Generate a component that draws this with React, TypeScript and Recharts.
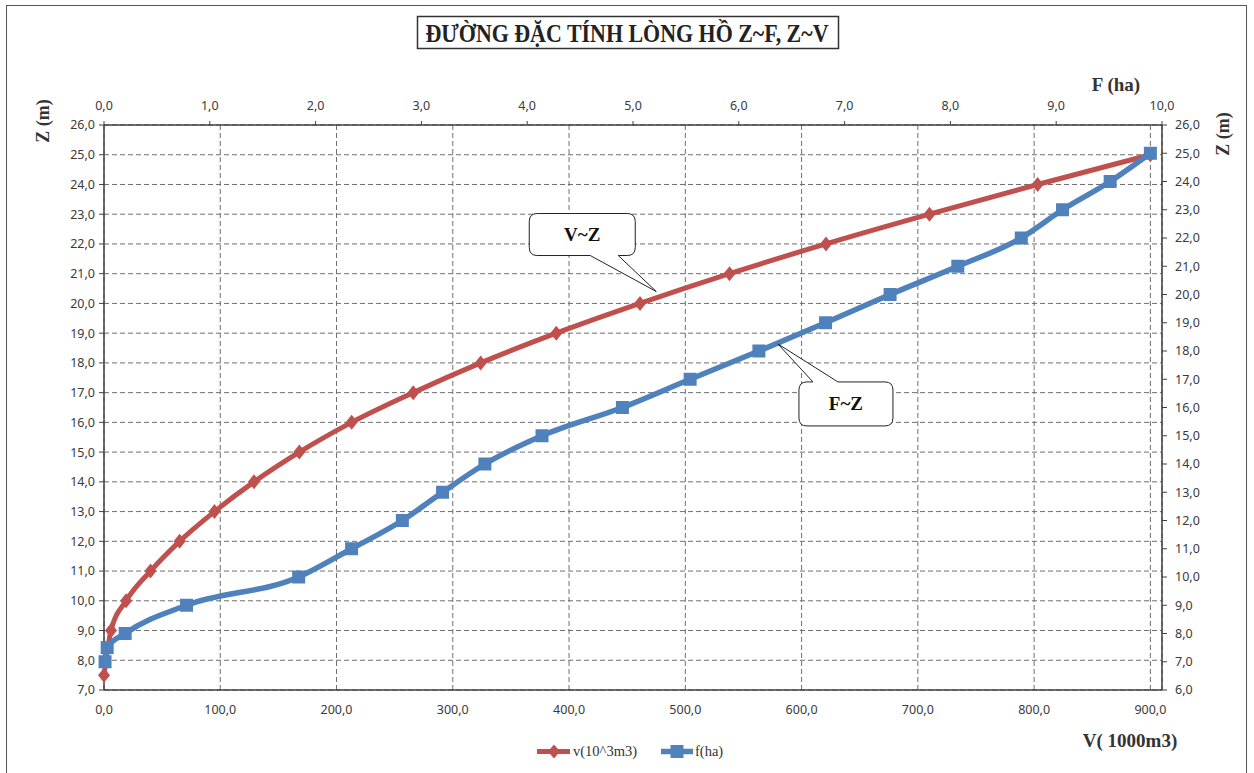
import React from "react";
import {
  ScatterChart,
  Scatter,
  XAxis,
  YAxis,
  CartesianGrid,
  ReferenceDot,
} from "recharts";

// V~Z curve (left axis Z, bottom axis V in 1000 m3)
const zOfV = [7.5, 9, 10, 11, 12, 13, 14, 15, 16, 17, 18, 19, 20, 21, 22, 23, 24, 25];
const vValues = [0, 6, 19, 40, 65, 95, 129, 168, 213, 266, 324, 389, 461, 538, 621, 710, 803, 900];

// F~Z curve (right axis Z, top axis F in ha)
const zOfF = [7, 7.5, 8, 9, 10, 11, 12, 13, 14, 15, 16, 17, 18, 19, 20, 21, 22, 23, 24, 25];
const fValues = [0.01, 0.03, 0.2, 0.78, 1.84, 2.34, 2.82, 3.2, 3.6, 4.14, 4.9, 5.54, 6.19, 6.82, 7.43, 8.07, 8.67, 9.06, 9.51, 9.89];

const vTicks = [0, 100, 200, 300, 400, 500, 600, 700, 800, 900];
const fTicks = [0, 1, 2, 3, 4, 5, 6, 7, 8, 9, 10];
const zLeftTicks = [7, 8, 9, 10, 11, 12, 13, 14, 15, 16, 17, 18, 19, 20, 21, 22, 23, 24, 25, 26];
const zRightTicks = [6, 7, 8, 9, 10, 11, 12, 13, 14, 15, 16, 17, 18, 19, 20, 21, 22, 23, 24, 25, 26];

const vData = zOfV.map((z, i) => ({ v: vValues[i], z }));
const fData = zOfF.map((z, i) => ({ f: fValues[i], z }));

const RED = "#C0504D";
const BLUE = "#4F81BD";
const AXIS = "#404040";
const SERIF = "'Liberation Serif', 'Times New Roman', serif";
const TICK_FONT = { fontSize: 12.5, fill: "#3a3a3a", fontFamily: "'Noto Sans', sans-serif" };

const fmt = (n: number) => n.toFixed(1).replace(".", ",");

const Diamond = (p: any) => (
  <polygon
    points={`${p.cx},${p.cy - 7.5} ${p.cx + 6},${p.cy} ${p.cx},${p.cy + 7.5} ${p.cx - 6},${p.cy}`}
    fill={RED}
  />
);

const Square = (p: any) => (
  <rect x={p.cx - 6.5} y={p.cy - 6.5} width={13} height={13} fill={BLUE} />
);

// callout box whose pointer ends at (cx, cy), box sits above-left
const CalloutVZ = (p: any) => {
  const { cx, cy } = p;
  const L = cx - 127, R = cx - 21, T = cy - 78, B = cy - 36, r = 8;
  const d = `M${L + r},${T} H${R - r} Q${R},${T} ${R},${T + r} V${B - r} Q${R},${B} ${R - r},${B} H${cx - 38} L${cx},${cy} L${cx - 66},${B} H${L + r} Q${L},${B} ${L},${B - r} V${T + r} Q${L},${T} ${L + r},${T} Z`;
  return (
    <g>
      <path d={d} fill="#fff" stroke="#222" strokeWidth={1} />
      <text x={(L + R) / 2} y={(T + B) / 2 + 6} textAnchor="middle" fontFamily={SERIF} fontWeight="bold" fontSize={19} fill="#111">
        V~Z
      </text>
    </g>
  );
};

// callout box whose pointer ends at (cx, cy), box sits below-right
const CalloutFZ = (p: any) => {
  const { cx, cy } = p;
  const L = cx + 21, R = cx + 115, T = cy + 38, B = cy + 82, r = 8;
  const d = `M${L + r},${T} H${cx + 35} L${cx},${cy} L${cx + 60},${T} H${R - r} Q${R},${T} ${R},${T + r} V${B - r} Q${R},${B} ${R - r},${B} H${L + r} Q${L},${B} ${L},${B - r} V${T + r} Q${L},${T} ${L + r},${T} Z`;
  return (
    <g>
      <path d={d} fill="#fff" stroke="#222" strokeWidth={1} />
      <text x={(L + R) / 2} y={(T + B) / 2 + 6} textAnchor="middle" fontFamily={SERIF} fontWeight="bold" fontSize={19} fill="#111">
        F~Z
      </text>
    </g>
  );
};

export default function App() {
  return (
    <div style={{ position: "absolute", left: 0, top: 0, width: 1254, height: 773, background: "#fff", overflow: "hidden" }}>
      <div style={{ position: "absolute", left: 6, top: 5, width: 1241, height: 800, border: "1.5px solid #555", boxSizing: "border-box" }} />

      <div style={{ position: "absolute", left: 0, top: 0 }}>
        <ScatterChart width={1254} height={773} margin={{ top: 95, right: 42, bottom: 53, left: 54 }}>
          <CartesianGrid xAxisId="v" yAxisId="zl" stroke="#6f6f6f" strokeDasharray="5 3" />

          <XAxis
            xAxisId="v"
            dataKey="v"
            type="number"
            orientation="bottom"
            domain={[0, 910]}
            ticks={vTicks}
            tickFormatter={fmt}
            height={30}
            tickLine={false}
            tickSize={0}
            tickMargin={15}
            axisLine={{ stroke: AXIS, strokeWidth: 1.5 }}
            tick={TICK_FONT}
          />
          <XAxis
            xAxisId="f"
            dataKey="f"
            type="number"
            orientation="top"
            domain={[0, 10]}
            ticks={fTicks}
            tickFormatter={fmt}
            height={30}
            tickSize={4}
            tickMargin={11}
            tickLine={{ stroke: AXIS }}
            axisLine={{ stroke: AXIS, strokeWidth: 1.5 }}
            tick={TICK_FONT}
          />
          <YAxis
            yAxisId="zl"
            dataKey="z"
            type="number"
            orientation="left"
            domain={[7, 26]}
            ticks={zLeftTicks}
            tickFormatter={fmt}
            width={50}
            tickSize={5}
            tickMargin={4}
            tickLine={{ stroke: AXIS }}
            axisLine={{ stroke: AXIS, strokeWidth: 1.5 }}
            tick={TICK_FONT}
          />
          <YAxis
            yAxisId="zr"
            dataKey="z"
            type="number"
            orientation="right"
            domain={[6, 26]}
            ticks={zRightTicks}
            tickFormatter={fmt}
            width={50}
            tickSize={5}
            tickMargin={8}
            tickLine={{ stroke: AXIS }}
            axisLine={{ stroke: AXIS, strokeWidth: 1.5 }}
            tick={TICK_FONT}
          />

          <Scatter
            name="v(10^3m3)"
            data={vData}
            xAxisId="v"
            yAxisId="zl"
            line={{ stroke: RED, strokeWidth: 5 }}
            lineType="joint"
            lineJointType="monotoneX"
            shape={Diamond}
            isAnimationActive={false}
          />
          <Scatter
            name="f(ha)"
            data={fData}
            xAxisId="f"
            yAxisId="zr"
            line={{ stroke: BLUE, strokeWidth: 5.5 }}
            lineType="joint"
            lineJointType="monotoneX"
            shape={Square}
            isAnimationActive={false}
          />

          <ReferenceDot xAxisId="v" yAxisId="zl" x={475} y={20.4} r={0} shape={CalloutVZ} />
          <ReferenceDot xAxisId="f" yAxisId="zr" x={6.37} y={18.25} r={0} shape={CalloutFZ} />
        </ScatterChart>
      </div>

      {/* title, axis titles and legend */}
      <svg style={{ position: "absolute", left: 0, top: 0 }} width={1254} height={773} pointerEvents="none">
        <rect x={417.5} y={16.5} width={421} height={32} fill="#fff" stroke="#333" strokeWidth={1.5} />
        <text x={627} y={42} textAnchor="middle" fontFamily={SERIF} fontWeight="bold" fontSize={25} fill="#222" textLength={403} lengthAdjust="spacingAndGlyphs">
          ĐƯỜNG ĐẶC TÍNH LÒNG HỒ Z~F, Z~V
        </text>

        <text x={0} y={0} transform="translate(49,121) rotate(-90)" textAnchor="middle" fontFamily={SERIF} fontWeight="bold" fontSize={18} fill="#333">
          Z (m)
        </text>
        <text x={0} y={0} transform="translate(1229,134) rotate(-90)" textAnchor="middle" fontFamily={SERIF} fontWeight="bold" fontSize={18} fill="#333">
          Z (m)
        </text>
        <text x={1116} y={91} textAnchor="middle" fontFamily={SERIF} fontWeight="bold" fontSize={19} fill="#333">
          F (ha)
        </text>
        <text x={1130} y={747} textAnchor="middle" fontFamily={SERIF} fontWeight="bold" fontSize={19} fill="#333">
          V( 1000m3)
        </text>

        {/* legend */}
        <line x1={537} y1={751.5} x2={570} y2={751.5} stroke={RED} strokeWidth={5} />
        <polygon points="554,744.5 560,751.5 554,758.5 548,751.5" fill={RED} />
        <text x={573} y={756} fontFamily={SERIF} fontSize={14.5} fill="#333">
          v(10^3m3)
        </text>
        <line x1={661} y1={751.5} x2={693} y2={751.5} stroke={BLUE} strokeWidth={5.5} />
        <rect x={670.5} y={745} width={13} height={13} fill={BLUE} />
        <text x={695} y={756} fontFamily={SERIF} fontSize={14.5} fill="#333">
          f(ha)
        </text>
      </svg>
    </div>
  );
}
